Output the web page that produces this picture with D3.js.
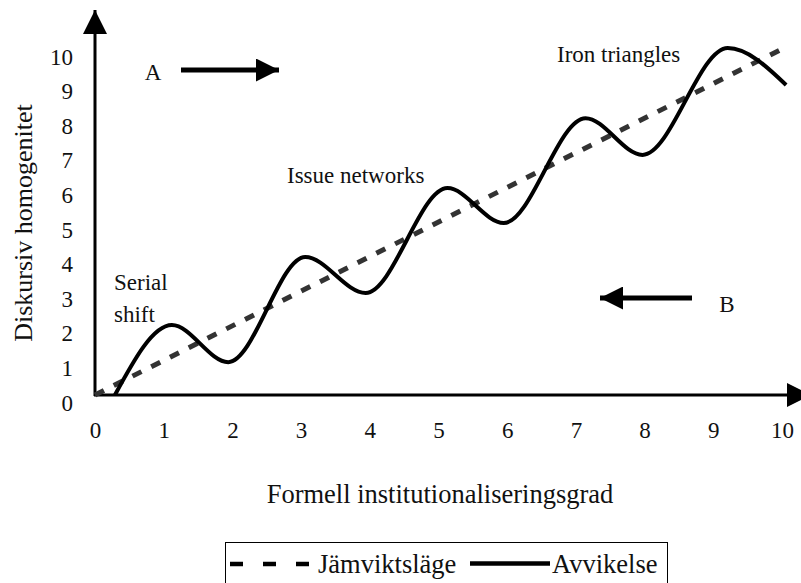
<!DOCTYPE html>
<html>
<head>
<meta charset="utf-8">
<script src="https://cdn.jsdelivr.net/npm/d3@7"></script>
<style>
  body { margin: 0; background: #fff; }
  svg text { font-family: "Liberation Serif", "DejaVu Serif", serif; fill: #111; }
</style>
</head>
<body>
<svg id="chart" width="801" height="583"></svg>
<script>
// tick labels (both axes)
var ticks = [0, 1, 2, 3, 4, 5, 6, 7, 8, 9, 10];

// Jämviktsläge (straight dashed line)
var eqX = [0, 10];
var eqY = [0, 10];

// Avvikelse (wavy line)
var devX = [0.29, 1.12, 1.94, 3.06, 3.94, 5.13, 5.95, 7.14, 7.97, 9.21, 10.06];
var devY = [0, 2.02, 0.95, 3.99, 2.95, 5.98, 4.97, 8.0, 6.94, 10.03, 8.96];

var svg = d3.select("#chart");

var x = d3.scaleLinear().domain([0, 10]).range([95, 782]);
var y = d3.scaleLinear().domain([0, 10]).range([395, 49]);

// arrow markers
var defs = svg.append("defs");
function marker(id, size) {
  defs.append("marker")
    .attr("id", id)
    .attr("viewBox", "0 0 10 10")
    .attr("refX", 10).attr("refY", 5)
    .attr("markerUnits", "userSpaceOnUse")
    .attr("markerWidth", size).attr("markerHeight", size)
    .attr("orient", "auto")
    .append("path").attr("d", "M0,0 L10,5 L0,10 Z").attr("fill", "#000");
}
marker("head", 24);
marker("small", 23);

// axes
svg.append("line")
  .attr("x1", x(0)).attr("y1", y(0) + 1)
  .attr("x2", x(0)).attr("y2", 10)
  .attr("stroke", "#000").attr("stroke-width", 3)
  .attr("marker-end", "url(#head)");
svg.append("line")
  .attr("x1", x(0) - 1).attr("y1", y(0))
  .attr("x2", 811).attr("y2", y(0))
  .attr("stroke", "#000").attr("stroke-width", 3)
  .attr("marker-end", "url(#head)");

var yAxis = svg.append("g")
  .attr("transform", "translate(" + x(0) + ",0)")
  .call(d3.axisLeft(y).tickValues(ticks).tickSize(0).tickFormat(d3.format("d")));
yAxis.select(".domain").remove();
yAxis.selectAll("text")
  .attr("x", -22).attr("dy", 15)
  .attr("text-anchor", "end")
  .style("font-size", "23px");

var xAxis = svg.append("g")
  .attr("transform", "translate(0," + y(0) + ")")
  .call(d3.axisBottom(x).tickValues(ticks).tickSize(0).tickFormat(d3.format("d")));
xAxis.select(".domain").remove();
xAxis.selectAll("text")
  .attr("y", 43).attr("dy", 0)
  .style("font-size", "23px");

// axis titles
svg.append("text")
  .attr("x", 440).attr("y", 503)
  .attr("text-anchor", "middle")
  .style("font-size", "26.5px")
  .text("Formell institutionaliseringsgrad");
svg.append("text")
  .attr("transform", "translate(32,223) rotate(-90)")
  .attr("text-anchor", "middle")
  .style("font-size", "26px")
  .text("Diskursiv homogenitet");

// lines
var line = d3.line()
  .x(function(d){ return x(d[0]); })
  .y(function(d){ return y(d[1]); });

svg.append("path")
  .datum(d3.zip(eqX, eqY))
  .attr("d", line)
  .attr("fill", "none")
  .attr("stroke", "#333")
  .attr("stroke-width", 5)
  .attr("stroke-dasharray", "10,11");

svg.append("path")
  .datum(d3.zip(devX, devY))
  .attr("d", line.curve(d3.curveMonotoneX))
  .attr("fill", "none")
  .attr("stroke", "#000")
  .attr("stroke-width", 4);

// annotations
svg.append("text").attr("x", 114).attr("y", 290).style("font-size", "23px").text("Serial");
svg.append("text").attr("x", 114).attr("y", 322).style("font-size", "23px").text("shift");
svg.append("text").attr("x", 287).attr("y", 183).style("font-size", "23px").text("Issue networks");
svg.append("text").attr("x", 557).attr("y", 62).style("font-size", "23px").text("Iron triangles");

svg.append("text").attr("x", 153).attr("y", 80).attr("text-anchor", "middle").style("font-size", "23px").text("A");
svg.append("line")
  .attr("x1", 181).attr("y1", 70).attr("x2", 279).attr("y2", 70)
  .attr("stroke", "#000").attr("stroke-width", 5)
  .attr("marker-end", "url(#small)");

svg.append("text").attr("x", 727).attr("y", 312).attr("text-anchor", "middle").style("font-size", "23px").text("B");
svg.append("line")
  .attr("x1", 692).attr("y1", 298).attr("x2", 600).attr("y2", 298)
  .attr("stroke", "#000").attr("stroke-width", 5)
  .attr("marker-end", "url(#small)");

// legend
var legend = svg.append("g");
legend.append("rect")
  .attr("x", 225.5).attr("y", 542.5).attr("width", 442).attr("height", 50)
  .attr("fill", "none").attr("stroke", "#000").attr("stroke-width", 1);
legend.append("line")
  .attr("x1", 230).attr("y1", 564).attr("x2", 310).attr("y2", 564)
  .attr("stroke", "#000").attr("stroke-width", 4.5)
  .attr("stroke-dasharray", "13,20");
legend.append("text").attr("x", 318).attr("y", 573).style("font-size", "26.5px").text("Jämviktsläge");
legend.append("line")
  .attr("x1", 470).attr("y1", 563.5).attr("x2", 550).attr("y2", 563.5)
  .attr("stroke", "#000").attr("stroke-width", 4.5);
legend.append("text").attr("x", 552).attr("y", 573).style("font-size", "26.5px").text("Avvikelse");
</script>
</body>
</html>
